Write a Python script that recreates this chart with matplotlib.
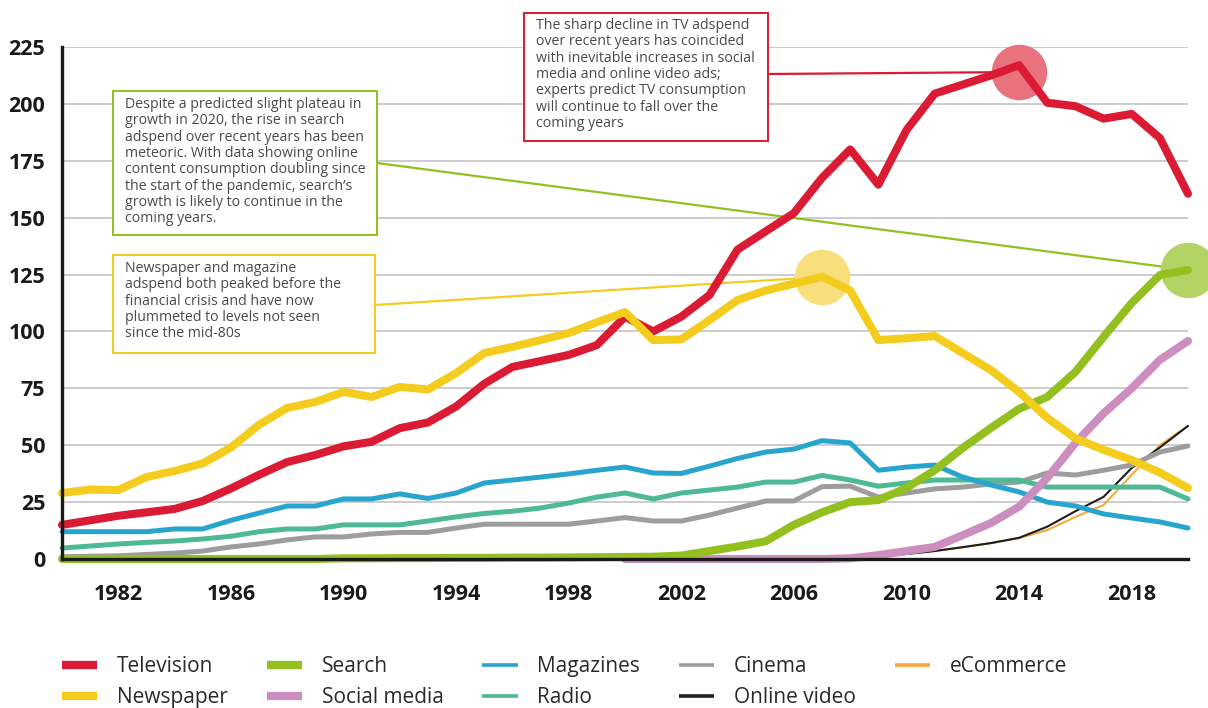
import numpy as np
import matplotlib.pyplot as plt
from matplotlib.lines import Line2D
from matplotlib.patches import Rectangle

# Adspend by medium, 1980-2020
years = list(range(1980, 2021))

television = [15, 17, 19, 20.5, 22, 25.5, 31, 37, 42.6, 45.7,
              49.5, 51.5, 57.5, 60, 67, 77, 84.4, 87, 89.7, 94,
              106.5, 100, 106.5, 116, 136, 144, 152, 167.5, 180, 164.5,
              188.5, 204.5, 208.5, 212.5, 217, 200.5, 199, 193.5, 195.6, 185, 160.5]
newspaper = [29, 30.5, 30.3, 36, 38.7, 42, 49, 59, 66.4, 69,
             73.4, 71.2, 75.6, 74.5, 81.7, 90.5, 93.2, 96.2, 99.3, 104,
             108.5, 96.2, 96.5, 105, 113.8, 118, 121, 124, 118, 96.2,
             97, 98, 90.5, 83, 73.4, 62, 53, 48, 43.5, 38, 31.2]
search = [0, 0, 0, 0, 0, 0, 0, 0, 0, 0,
          0.3, 0.3, 0.4, 0.4, 0.5, 0.5, 0.6, 0.6, 0.7, 0.8,
          0.9, 1, 1.5, 3.5, 5.5, 7.8, 15, 20.5, 25, 25.9,
          31.2, 39, 48.8, 57.6, 66, 71.2, 82.2, 97.6, 112.5, 124.8, 127]
social_media = [np.nan] * 20 + [0, 0, 0, 0, 0, 0, 0, 0, 0.3, 1.7,
                                3.5, 5.3, 10.5, 15.8, 23, 35.6, 51, 64, 75, 87.5, 95.8]
magazines = [12, 12, 12, 12, 13.2, 13.2, 17, 20.2, 23.3, 23.3,
             26.4, 26.4, 28.6, 26.6, 29, 33.4, 34.7, 36, 37.4, 39,
             40.4, 37.8, 37.6, 40.8, 44.2, 47, 48.3, 52, 51, 39,
             40.4, 41.3, 36, 32.5, 29.5, 25, 23.3, 19.8, 18, 16.3, 13.6]
radio = [4.8, 5.7, 6.6, 7.3, 7.9, 8.8, 10, 12, 13.2, 13.2,
         15, 15, 15, 16.7, 18.5, 20, 21, 22.4, 24.6, 27.2,
         29, 26.4, 29, 30.3, 31.6, 33.8, 33.8, 36.7, 34.7, 32,
         33.4, 34.7, 34.7, 34.7, 34.7, 31.6, 31.6, 31.6, 31.6, 31.6, 26.4]
cinema = [1, 1.2, 1.4, 2, 2.6, 3.5, 5.3, 6.6, 8.4, 9.7,
          9.7, 11, 11.7, 11.7, 13.6, 15.3, 15.3, 15.3, 15.3, 16.7,
          18.2, 16.7, 16.7, 19.3, 22.4, 25.5, 25.5, 31.8, 32, 27.2,
          29, 30.8, 31.6, 33, 33.8, 37.8, 36.9, 39, 41.3, 47, 49.7]
online_video = [np.nan] * 22 + [0, 0.2, 0.4, 0.6, 0.8, 1, 1.2, 1.5,
                                2.2, 3.5, 5.2, 7, 9.3, 14.2, 21, 27.3, 40, 49, 58.5]
ecommerce = [np.nan] * 22 + [0, 0.2, 0.4, 0.6, 0.8, 1, 1.2, 1.5,
                             2.2, 3.5, 5.2, 7, 9.2, 12.7, 18.5, 23.7, 37, 50, 58.5]

xtick_years = [1982, 1986, 1990, 1994, 1998, 2002, 2006, 2010, 2014, 2018]
ytick_values = [0, 25, 50, 75, 100, 125, 150, 175, 200, 225]

# label, values, colour, width, zorder
series = [
    ('eCommerce', ecommerce, '#F5A93A', 1.5, 3.0),
    ('Online video', online_video, '#1E1E1E', 1.5, 3.1),
    ('Cinema', cinema, '#9D9D9D', 3.6, 3.2),
    ('Radio', radio, '#4DBA94', 3.6, 3.3),
    ('Magazines', magazines, '#28A5CE', 3.6, 3.4),
    ('Social media', social_media, '#CC8EBF', 5.8, 4),
    ('Search', search, '#93C01F', 5.8, 5),
    ('Television', television, '#DB1A33', 5.8, 6),
    ('Newspaper', newspaper, '#F4CC1E', 5.8, 7),
]
legend_order = ['Television', 'Newspaper', 'Search', 'Social media',
                'Magazines', 'Radio', 'Cinema', 'Online video', 'eCommerce']

W, H = 1208, 708
fig = plt.figure(figsize=(W / 100, H / 100), dpi=100)
ax = fig.add_axes([62 / W, 1 - 559 / H, (1188 - 62) / W, (559 - 47) / H])


def fx(px):
    return px / W


def fy(py):
    return 1 - py / H


styles = {}
for label, vals, color, lw, z in series:
    ax.plot(years, vals, color=color, lw=lw, zorder=z, clip_on=False,
            solid_capstyle='round', solid_joinstyle='round')
    styles[label] = (color, lw)

ax.set_xlim(1980, 2020)
ax.set_ylim(0, 225)
ax.set_xticks(xtick_years)
ax.set_xticklabels([str(y) for y in xtick_years])
ax.set_yticks(ytick_values)
ax.yaxis.grid(True, color='#c8c8c8', lw=1.3)
ax.set_axisbelow(True)
ax.tick_params(length=0, labelsize=15.5, colors='#1a1a1a')
ax.tick_params(axis='x', pad=18)
ax.tick_params(axis='y', pad=12)
for lab in ax.get_xticklabels() + ax.get_yticklabels():
    lab.set_fontfamily('Open Sans')
    lab.set_fontweight('bold')

for side in ['top', 'right']:
    ax.spines[side].set_visible(False)
for side in ['left', 'bottom']:
    ax.spines[side].set_color('#1a1a1a')
    ax.spines[side].set_linewidth(2.4)
    ax.spines[side].set_zorder(10)

# highlight circles on the points being discussed
tv_peak = television.index(max(television))
np_peak = newspaper.index(max(newspaper))
ax.plot(years[tv_peak], television[tv_peak] - 3, 'o', ms=40, color='#E8737F',
        mew=0, zorder=2.5, clip_on=False)
ax.plot(years[np_peak], newspaper[np_peak], 'o', ms=40, color='#F8DF7B',
        mew=0, zorder=2.5, clip_on=False)
ax.plot(years[-1], search[-1], 'o', ms=40, color='#B3D465',
        mew=0, zorder=2.5, clip_on=False)

# note boxes: (left, top, right, bottom) in pixels, colour, text start
notes = [
    ((113, 91, 377, 235), '#93C01F', (125, 97),
     "Despite a predicted slight plateau in\ngrowth in 2020, the rise in search\n"
     "adspend over recent years has been\nmeteoric. With data showing online\n"
     "content consumption doubling since\nthe start of the pandemic, search\u2019s\n"
     "growth is likely to continue in the\ncoming years.",
     (377, 163), (years[-1], search[-1])),
    ((113, 255, 375, 353), '#F4CC1E', (125, 261),
     "Newspaper and magazine\nadspend both peaked before the\nfinancial crisis and have now\n"
     "plummeted to levels not seen\nsince the mid-80s",
     (375, 305), (years[np_peak], newspaper[np_peak])),
    ((524, 13, 768, 141), '#DB1A33', (536, 18),
     "The sharp decline in TV adspend\nover recent years has coincided\n"
     "with inevitable increases in social\nmedia and online video ads;\n"
     "experts predict TV consumption\nwill continue to fall over the\ncoming years",
     (768, 74), (years[tv_peak], television[tv_peak] - 3)),
]
for (l, t, r, b), color, (tx, ty), txt, start, end in notes:
    ax.annotate('', xy=end, xycoords='data', xytext=(fx(start[0]), fy(start[1])),
                textcoords='figure fraction', zorder=2,
                arrowprops=dict(arrowstyle='-', color=color, lw=1.6,
                                shrinkA=0, shrinkB=0))
    box = Rectangle((fx(l), fy(b)), fx(r - l), (b - t) / H, transform=fig.transFigure,
                    facecolor='white', edgecolor=color, lw=1.4, zorder=20)
    fig.add_artist(box)
    fig.text(fx(tx), fy(ty), txt, ha='left', va='top', fontsize=10.2,
             family='Open Sans', color='#4a4a4a', linespacing=1.12, zorder=21)

# legend with rectangular handles
handles = []
for label in legend_order:
    color, lw = styles[label]
    hw = 6 if lw > 5 else 2.6
    handles.append(Line2D([0], [0], color=color, lw=hw, solid_capstyle='butt'))
fig.legend(handles, legend_order, ncol=5, loc='center left',
           bbox_to_anchor=(fx(62), fy(682)), frameon=False,
           prop={'family': 'Open Sans', 'size': 15},
           handlelength=1.7, handletextpad=0.95, columnspacing=1.85,
           borderpad=0, borderaxespad=0, labelspacing=0.5, labelcolor='#2a2a2a')

fig.savefig('out.png', dpi=100)
